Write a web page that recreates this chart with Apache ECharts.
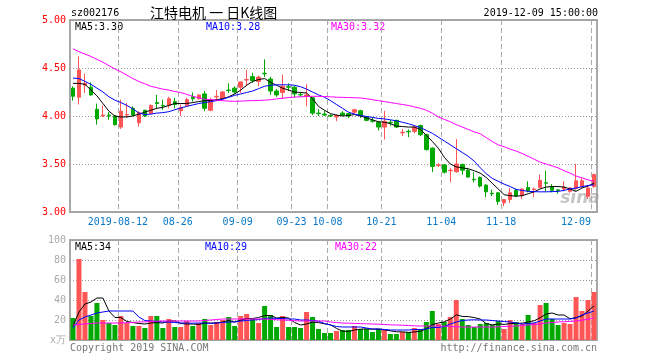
<!DOCTYPE html>
<html><head><meta charset="utf-8">
<script src="https://cdn.jsdelivr.net/npm/echarts@6/dist/echarts.min.js"></script>
<style>html,body{margin:0;padding:0;background:#fff}#c{width:660px;height:360px}</style>
</head><body><div id="c"></div>
<script>
const dates = ['2019-07-31','2019-08-01','2019-08-02','2019-08-05','2019-08-06','2019-08-07','2019-08-08','2019-08-09',
'2019-08-12','2019-08-13','2019-08-14','2019-08-15','2019-08-16','2019-08-19','2019-08-20','2019-08-21','2019-08-22','2019-08-23',
'2019-08-26','2019-08-27','2019-08-28','2019-08-29','2019-08-30','2019-09-02','2019-09-03','2019-09-04','2019-09-05','2019-09-06',
'2019-09-09','2019-09-10','2019-09-11','2019-09-12','2019-09-16','2019-09-17','2019-09-18','2019-09-19','2019-09-20',
'2019-09-23','2019-09-24','2019-09-25','2019-09-26','2019-09-27','2019-09-30',
'2019-10-08','2019-10-09','2019-10-10','2019-10-11','2019-10-14','2019-10-15','2019-10-16','2019-10-17','2019-10-18',
'2019-10-21','2019-10-22','2019-10-23','2019-10-24','2019-10-25','2019-10-28','2019-10-29','2019-10-30','2019-10-31','2019-11-01',
'2019-11-04','2019-11-05','2019-11-06','2019-11-07','2019-11-08','2019-11-11','2019-11-12','2019-11-13','2019-11-14','2019-11-15',
'2019-11-18','2019-11-19','2019-11-20','2019-11-21','2019-11-22','2019-11-25','2019-11-26','2019-11-27','2019-11-28','2019-11-29',
'2019-12-02','2019-12-03','2019-12-04','2019-12-05','2019-12-06','2019-12-09'];

const tickDates  = ['2019-08-12','2019-08-26','2019-09-09','2019-09-23','2019-10-08','2019-10-21','2019-11-04','2019-11-18','2019-12-09'];
const tickLabels = ['2019-08-12','08-26','09-09','09-23','10-08','10-21','11-04','11-18','12-09'];

const open  = [4.29,4.195,4.32,4.30,4.07,4.00,4.01,4.00,3.885,4.01,4.08,3.93,4.06,4.025,4.14,4.11,4.11,4.15,4.055,4.11,
4.20,4.18,4.23,4.06,4.20,4.18,4.27,4.29,4.30,4.375,4.41,4.36,4.445,4.385,4.26,4.245,4.305,4.30,4.225,4.205,
4.19,4.03,4.02,4.005,3.99,4.03,4.025,4.04,4.055,3.995,3.95,3.935,3.885,3.935,3.955,3.825,3.84,3.84,3.90,3.805,
3.665,3.485,3.49,3.43,3.42,3.495,3.435,3.34,3.36,3.28,3.195,3.20,3.095,3.13,3.225,3.17,3.255,3.235,3.255,3.305,
3.26,3.23,3.24,3.215,3.245,3.27,3.163,3.265];
const close = [4.205,4.48,4.34,4.22,3.97,4.01,4.00,3.91,4.05,4.015,4.01,4.035,4.00,4.11,4.13,4.105,4.18,4.12,4.087,4.17,
4.18,4.22,4.08,4.17,4.205,4.25,4.265,4.25,4.355,4.38,4.37,4.405,4.44,4.26,4.22,4.31,4.30,4.23,4.22,4.22,
4.03,4.025,4.01,4.00,4.005,4.01,4.00,4.065,4.005,3.955,3.945,3.885,3.945,3.93,3.885,3.83,3.835,3.885,3.805,3.65,
3.475,3.49,3.415,3.435,3.50,3.435,3.365,3.335,3.27,3.21,3.19,3.11,3.13,3.20,3.17,3.24,3.22,3.24,3.33,3.30,
3.225,3.225,3.26,3.25,3.325,3.325,3.25,3.39];
const low   = [4.16,4.12,4.24,4.21,3.91,3.99,3.96,3.90,3.865,3.98,4.00,3.89,3.99,4.015,4.08,4.065,4.08,4.08,4.00,4.10,
4.15,4.17,4.05,4.05,4.16,4.17,4.24,4.23,4.24,4.31,4.345,4.31,4.405,4.22,4.20,4.18,4.26,4.19,4.20,4.10,
4.01,4.00,4.00,3.99,3.945,4.00,3.98,4.025,3.98,3.945,3.93,3.85,3.755,3.90,3.875,3.79,3.78,3.82,3.79,3.64,
3.415,3.47,3.40,3.31,3.41,3.39,3.355,3.31,3.255,3.155,3.165,3.075,3.06,3.095,3.155,3.135,3.205,3.155,3.245,3.215,
3.205,3.19,3.215,3.20,3.235,3.25,3.135,3.25];
const high  = [4.31,4.62,4.44,4.35,4.13,4.11,4.04,4.01,4.17,4.135,4.10,4.05,4.065,4.12,4.22,4.17,4.20,4.19,4.12,4.19,
4.245,4.22,4.26,4.19,4.27,4.26,4.34,4.31,4.36,4.48,4.45,4.42,4.59,4.41,4.28,4.43,4.34,4.315,4.245,4.33,
4.20,4.07,4.055,4.02,4.02,4.05,4.03,4.075,4.065,4.00,3.99,3.945,4.055,3.96,3.96,3.865,3.86,3.90,3.91,3.815,
3.675,3.51,3.50,3.46,3.76,3.505,3.46,3.415,3.37,3.29,3.235,3.205,3.135,3.25,3.245,3.245,3.32,3.255,3.39,3.43,
3.29,3.24,3.32,3.26,3.50,3.355,3.275,3.40];

const ma5  = [4.34,4.34,4.33,4.27,4.21,4.13,4.05,4.00,3.99,3.99,4.00,4.02,4.04,4.06,4.08,4.09,4.11,4.13,4.13,4.13,
4.14,4.15,4.16,4.16,4.17,4.18,4.20,4.23,4.27,4.32,4.36,4.38,4.39,4.35,4.32,4.29,4.27,4.25,4.245,4.24,
4.18,4.10,4.06,4.025,4.01,4.00,4.005,4.015,4.00,3.98,3.96,3.94,3.935,3.92,3.895,3.89,3.885,3.885,3.86,3.80,
3.735,3.665,3.57,3.50,3.47,3.46,3.45,3.43,3.405,3.36,3.30,3.24,3.18,3.17,3.165,3.17,3.19,3.21,3.24,3.26,
3.265,3.265,3.26,3.24,3.215,3.25,3.27,3.30];
const ma10 = [4.395,4.39,4.36,4.33,4.29,4.25,4.20,4.165,4.14,4.11,4.075,4.03,4.015,4.02,4.03,4.035,4.045,4.065,4.085,4.10,
4.115,4.13,4.14,4.15,4.16,4.175,4.195,4.215,4.23,4.245,4.26,4.285,4.31,4.32,4.325,4.325,4.325,4.32,4.305,4.28,
4.25,4.22,4.195,4.16,4.12,4.08,4.04,4.02,4.005,3.995,3.985,3.975,3.97,3.96,3.95,3.935,3.92,3.90,3.88,3.85,
3.82,3.78,3.74,3.70,3.66,3.62,3.58,3.53,3.46,3.40,3.35,3.32,3.29,3.265,3.235,3.225,3.215,3.212,3.21,3.21,
3.212,3.215,3.225,3.24,3.25,3.265,3.275,3.285];
const ma30 = [4.70,4.67,4.645,4.62,4.59,4.56,4.525,4.49,4.46,4.425,4.39,4.36,4.335,4.31,4.295,4.28,4.27,4.255,4.245,4.225,
4.205,4.19,4.175,4.17,4.165,4.16,4.155,4.153,4.155,4.158,4.16,4.162,4.165,4.17,4.178,4.185,4.192,4.197,4.20,4.203,
4.205,4.205,4.203,4.20,4.196,4.194,4.192,4.19,4.188,4.18,4.17,4.16,4.15,4.14,4.13,4.12,4.11,4.095,4.08,4.06,
4.03,3.99,3.965,3.94,3.91,3.885,3.86,3.835,3.815,3.775,3.735,3.70,3.68,3.655,3.635,3.61,3.58,3.55,3.52,3.50,
3.48,3.46,3.43,3.405,3.375,3.355,3.335,3.32];

const volume = [22,81,48,24,37,20,17,15,24,17,14,14,12,24,24,12,21,13,13,19,
14,17,21,15,18,20,23,14,24,26,21,17,34,25,13,24,13,13,12,28,
23,11,7,7,9,10,10,14,11,11,8,11,10,6,6,8,8,12,10,18,
29,16,18,23,40,21,15,13,16,17,15,19,11,20,18,16,25,17,35,37,
21,15,17,16,43,29,40,48];
const volMa5 = [14,28,36,38,42,42,29,22.5,22.5,18.5,17.5,16.5,16,17,17.5,17,19,19,16.5,16,
16,15.5,17,17,17,18,19.5,18,19.8,21.5,21.5,22.5,24.5,24.5,22,22.5,22,17.5,15,16,
17.8,17.4,16.2,15.2,11.6,8.8,8.6,10,10.8,11.2,10.8,11,10.2,9.2,8.2,8.2,7.6,8,8.8,11.2,
15.4,17,18.2,20.8,25.2,23.6,23.4,22.4,21,16.4,15.2,16,15.6,16.4,16.6,16.8,18,19.2,22.2,26,
27,25,25,21.2,22.4,24,29,34];
const volMa10 = [12,20,23,25,27,28,29,29,29,29,29,23,19.5,19,18.5,18,17.8,17.5,17,17,
16.8,17,17,16.5,17,17.5,18,18,19,19.5,20,20.5,21.5,22,21.5,21.5,21,21,20,20,
19.5,18.8,16.5,15,13.5,13,13,13,13,12,11,11,10.5,10,10,10,10,10.5,10.5,11,
12.5,12.5,13.5,16,18,19.5,20,20.2,20,20,19.5,19,18.5,18,17,16,16.5,17,19,21,
21,21,21,21,22,25,27,29];
const volMa30 = [15,15.5,16,16.5,17,17,17,17,17,17.3,17.6,18,18.2,18.5,18.8,19,19,19,19,19,
19,19,19.5,20,20.5,21,21,21,21,21,21,21,21,20.7,20.3,20,19.7,19.3,19,19,
19,19,19,18,17.5,17,16.8,16.6,16.4,16.2,16,15.8,15.5,15.2,15,14.8,14.5,14.2,14,14,
14,14,13.8,13.5,13.3,13,13,13,13,13,13,13.2,13.5,13.8,14,14.5,15,15.5,16,17,
17.5,18,18.3,18.6,19,19.8,20.8,22];

const stockCode = 'sz002176';
const titleText = '江特电机 一 日K线图';
const timeText = '2019-12-09 15:00:00';
const priceLegend = ['MA5:3.30','MA10:3.28','MA30:3.32'];
const volLegend = ['MA5:34','MA10:29','MA30:22'];

const MONO = 'DejaVu Sans Mono';
const RED = '#ff5555', GREEN = '#00a800';
const tickSet = new Set(tickDates);
const isTick = (i) => tickSet.has(dates[i]);

const ohlc = dates.map((d, i) => [open[i], close[i], low[i], high[i]]);
const volData = volume.map((v, i) => ({ value: v, itemStyle: { color: close[i] >= open[i] ? RED : GREEN } }));

const dashed = { show: true, interval: isTick, lineStyle: { color: '#aaaaaa', type: [5, 3], width: 1 } };
const dotted = { show: true, lineStyle: { color: '#999999', type: [1, 2], width: 1 } };

const chart = echarts.init(document.getElementById('c'), null, { renderer: 'canvas' });
const txt = (x, y, text, color, extra) => Object.assign({
  type: 'text', x: x, y: y, silent: true,
  style: Object.assign({ text: text, fill: color, font: '10px ' + MONO, textVerticalAlign: 'middle', textAlign: 'left' }, extra || {})
});

chart.setOption({
  animation: false,
  backgroundColor: '#ffffff',
  grid: [
    { left: 70, top: 20, width: 527, height: 192, show: true, borderColor: '#a8a8a8', borderWidth: 2 },
    { left: 70, top: 240, width: 527, height: 100, show: true, borderColor: '#a8a8a8', borderWidth: 2 }
  ],
  xAxis: [
    { type: 'category', gridIndex: 0, data: dates, boundaryGap: true,
      axisLine: { show: false }, axisTick: { show: false },
      axisLabel: {
        interval: isTick, color: '#0a78c8', fontFamily: MONO, fontSize: 10, margin: 5,
        formatter: (v) => {
          const k = tickDates.indexOf(v);
          return k === tickLabels.length - 1 ? '{e|' + tickLabels[k] + '}' : '{n|' + tickLabels[k] + '}';
        },
        rich: {
          n: { color: '#0a78c8', fontFamily: MONO, fontSize: 10, padding: [0, 6, 0, 0] },
          e: { color: '#0a78c8', fontFamily: MONO, fontSize: 10, padding: [0, 36, 0, 0] }
        }
      },
      splitLine: dashed },
    { type: 'category', gridIndex: 1, data: dates, boundaryGap: true,
      axisLine: { show: false }, axisTick: { show: false }, axisLabel: { show: false },
      splitLine: dashed }
  ],
  yAxis: [
    { type: 'value', gridIndex: 0, min: 3, max: 5, interval: 0.5,
      axisLine: { show: false }, axisTick: { show: false },
      axisLabel: { formatter: (v) => v.toFixed(2), color: '#ff0000', fontFamily: MONO, fontSize: 10, margin: 4 },
      splitLine: dotted },
    { type: 'value', gridIndex: 1, min: 0, max: 100, interval: 20,
      axisLine: { show: false }, axisTick: { show: false },
      axisLabel: { formatter: (v) => v === 0 ? 'x万' : String(v), color: '#aaaaaa', fontFamily: MONO, fontSize: 10, margin: 4 },
      splitLine: dotted }
  ],
  series: [
    { type: 'candlestick', xAxisIndex: 0, yAxisIndex: 0, data: ohlc, barWidth: 4,
      itemStyle: { color: RED, color0: GREEN, borderColor: RED, borderColor0: GREEN, borderWidth: 1 } },
    { type: 'line', xAxisIndex: 0, yAxisIndex: 0, data: ma5, symbol: 'none', lineStyle: { color: '#000000', width: 1 }, z: 3 },
    { type: 'line', xAxisIndex: 0, yAxisIndex: 0, data: ma10, symbol: 'none', lineStyle: { color: '#0000ff', width: 1 }, z: 3 },
    { type: 'line', xAxisIndex: 0, yAxisIndex: 0, data: ma30, symbol: 'none', lineStyle: { color: '#ff00ff', width: 1 }, z: 3 },
    { type: 'bar', xAxisIndex: 1, yAxisIndex: 1, data: volData, barWidth: 5 },
    { type: 'line', xAxisIndex: 1, yAxisIndex: 1, data: volMa5, symbol: 'none', lineStyle: { color: '#000000', width: 1 }, z: 3 },
    { type: 'line', xAxisIndex: 1, yAxisIndex: 1, data: volMa10, symbol: 'none', lineStyle: { color: '#0000ff', width: 1 }, z: 3 },
    { type: 'line', xAxisIndex: 1, yAxisIndex: 1, data: volMa30, symbol: 'none', lineStyle: { color: '#ff00ff', width: 1 }, z: 3 }
  ],
  graphic: [
    txt(71, 13, stockCode, '#000000'),
    txt(150, 13, titleText, '#000000', { font: '14px "Noto Sans CJK SC"' }),
    txt(598, 13, timeText, '#000000', { textAlign: 'right' }),
    txt(75, 27, priceLegend[0], '#000000'),
    txt(206, 27, priceLegend[1], '#0000ff'),
    txt(331, 27, priceLegend[2], '#ff00ff'),
    txt(75, 247, volLegend[0], '#000000'),
    txt(205, 247, volLegend[1], '#0000ff'),
    txt(335, 247, volLegend[2], '#ff00ff'),
    txt(70, 348, 'Copyright 2019 SINA.COM', '#777777'),
    txt(597, 348, 'http://finance.sina.com.cn', '#777777', { textAlign: 'right' }),
    txt(580, 199, 'sina', 'rgba(150,150,150,0.55)', { textAlign: 'center', font: 'italic bold 17px "DejaVu Sans"' })
  ]
});
</script></body></html>
